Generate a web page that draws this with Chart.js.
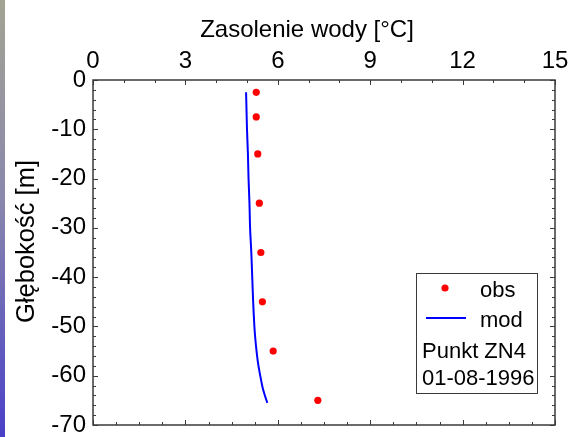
<!DOCTYPE html>
<html>
<head>
<meta charset="utf-8">
<script src="https://cdn.jsdelivr.net/npm/chart.js@4/dist/chart.umd.min.js"></script>
<style>
  html, body { margin: 0; padding: 0; background: #fff; }
  #wrap { position: relative; width: 573px; height: 437px; }
  #strip { position: absolute; left: 0; top: 0; width: 5px; height: 437px;
           background: linear-gradient(#a3a393, #8a88ac 45%, #4a40c8); }
  canvas { position: absolute; left: 0; top: 0; }
</style>
</head>
<body>
<div id="wrap">
  <canvas id="c" width="573" height="437"></canvas>
  <div id="strip"></div>
</div>
<script>
// dane: obserwacje i model
const obsDepth = [-2.5, -7.5, -15, -25, -35, -45, -55, -65];
const obsSal = [5.3, 5.3, 5.35, 5.4, 5.45, 5.5, 5.85, 7.3];
const modDepth = [-2.5, -5, -10, -15, -20, -25, -30, -35, -40, -45, -50, -52.5, -55, -57.5, -60, -62.5, -64, -65.5];
const modSal = [4.97, 4.98, 5.0, 5.03, 5.05, 5.08, 5.1, 5.14, 5.17, 5.2, 5.24, 5.27, 5.31, 5.36, 5.43, 5.51, 5.58, 5.66];
const xTicks = [0, 3, 6, 9, 12, 15];
const yTicks = [0, -10, -20, -30, -40, -50, -60, -70];
const xTitle = 'Zasolenie wody [°C]';
const yTitle = 'Głębokość [m]';
const legendNote = ['Punkt ZN4', '01-08-1996'];

const FONT = "'Liberation Sans', Arial, sans-serif";

// ramka, znaczniki do srodka, tytuly osi i legenda
const framePlugin = {
  id: 'frame',
  afterDraw(chart) {
    const ctx = chart.ctx;
    const a = chart.chartArea;
    const xs = chart.scales.x, ys = chart.scales.y;
    ctx.save();
    ctx.strokeStyle = '#3a3a3a';
    ctx.lineWidth = 1.5;
    ctx.strokeRect(a.left, a.top, a.right - a.left, a.bottom - a.top);

    ctx.lineWidth = 1;
    ctx.beginPath();
    // gora: co 1
    for (let v = 0; v <= 15; v += 1) {
      const px = Math.round(xs.getPixelForValue(v)) + 0.5;
      const len = v % 3 === 0 ? 5 : 3;
      ctx.moveTo(px, a.top); ctx.lineTo(px, a.top + len);
    }
    // dol: co 0.75
    for (let i = 0; i <= 20; i++) {
      const px = Math.round(xs.getPixelForValue(i * 0.75)) + 0.5;
      const len = i % 4 === 0 ? 5 : 3;
      ctx.moveTo(px, a.bottom); ctx.lineTo(px, a.bottom - len);
    }
    // lewo / prawo: co 2
    for (let v = 0; v >= -70; v -= 2) {
      const py = Math.round(ys.getPixelForValue(v)) + 0.5;
      const len = v % 10 === 0 ? 5 : 3;
      ctx.moveTo(a.left, py); ctx.lineTo(a.left + len, py);
      ctx.moveTo(a.right, py); ctx.lineTo(a.right - len, py);
    }
    ctx.stroke();

    // tytuly osi
    ctx.fillStyle = '#000';
    ctx.font = '24px ' + FONT;
    ctx.textAlign = 'center';
    ctx.textBaseline = 'alphabetic';
    ctx.fillText(xTitle, 307, 37);
    ctx.save();
    ctx.translate(34, 241.5);
    ctx.rotate(-Math.PI / 2);
    ctx.font = '25.5px ' + FONT;
    ctx.fillText(yTitle, 0, 0);
    ctx.restore();

    // legenda
    const bx = 416, by = 273, bw = 121, bh = 120;
    ctx.fillStyle = '#fff';
    ctx.fillRect(bx, by, bw, bh);
    ctx.strokeStyle = '#3a3a3a';
    ctx.lineWidth = 1;
    ctx.strokeRect(bx + 0.5, by + 0.5, bw, bh);
    const ds = chart.data.datasets;
    ctx.fillStyle = ds[0].pointBackgroundColor;
    ctx.beginPath();
    ctx.arc(445, 288, 3.6, 0, Math.PI * 2);
    ctx.fill();
    ctx.strokeStyle = ds[1].borderColor;
    ctx.lineWidth = 2;
    ctx.beginPath();
    ctx.moveTo(426, 318); ctx.lineTo(466, 318);
    ctx.stroke();
    ctx.fillStyle = '#000';
    ctx.font = '22px ' + FONT;
    ctx.textAlign = 'left';
    ctx.fillText(ds[0].label, 480, 297);
    ctx.fillText(ds[1].label, 480, 327);
    ctx.fillText(legendNote[0], 422, 358);
    ctx.fillText(legendNote[1], 422, 385);
    ctx.restore();
  }
};

new Chart(document.getElementById('c'), {
  type: 'scatter',
  data: {
    datasets: [
      {
        label: 'obs',
        data: obsSal.map((s, i) => ({ x: s, y: obsDepth[i] })),
        pointRadius: 3.6,
        pointBackgroundColor: '#ff0000',
        pointBorderWidth: 0,
        showLine: false
      },
      {
        label: 'mod',
        data: modSal.map((s, i) => ({ x: s, y: modDepth[i] })),
        showLine: true,
        borderColor: '#0000ff',
        borderWidth: 2,
        pointRadius: 0,
        tension: 0.3
      }
    ]
  },
  options: {
    responsive: false,
    devicePixelRatio: 1,
    animation: false,
    layout: { padding: { left: 0, top: 0, right: 18, bottom: 12 } },
    plugins: { legend: { display: false }, tooltip: { enabled: false } },
    scales: {
      x: {
        type: 'linear',
        position: 'top',
        min: 0, max: 15,
        afterBuildTicks: (s) => { s.ticks = xTicks.map(v => ({ value: v })); },
        afterFit: (s) => { s.height = 80; s.paddingLeft = 0; s.paddingRight = 0; },
        ticks: { autoSkip: false, maxRotation: 0, padding: 4, color: '#000', font: { size: 24, family: FONT } },
        grid: { display: false, drawTicks: false },
        border: { display: false }
      },
      y: {
        type: 'linear',
        min: -70, max: 0,
        afterBuildTicks: (s) => { s.ticks = yTicks.map(v => ({ value: v })); },
        afterFit: (s) => { s.width = 93; s.paddingTop = 0; s.paddingBottom = 0; },
        ticks: { autoSkip: false, padding: 7, color: '#000', font: { size: 24, family: FONT } },
        grid: { display: false, drawTicks: false },
        border: { display: false }
      }
    }
  },
  plugins: [framePlugin]
});
</script>
</body>
</html>
